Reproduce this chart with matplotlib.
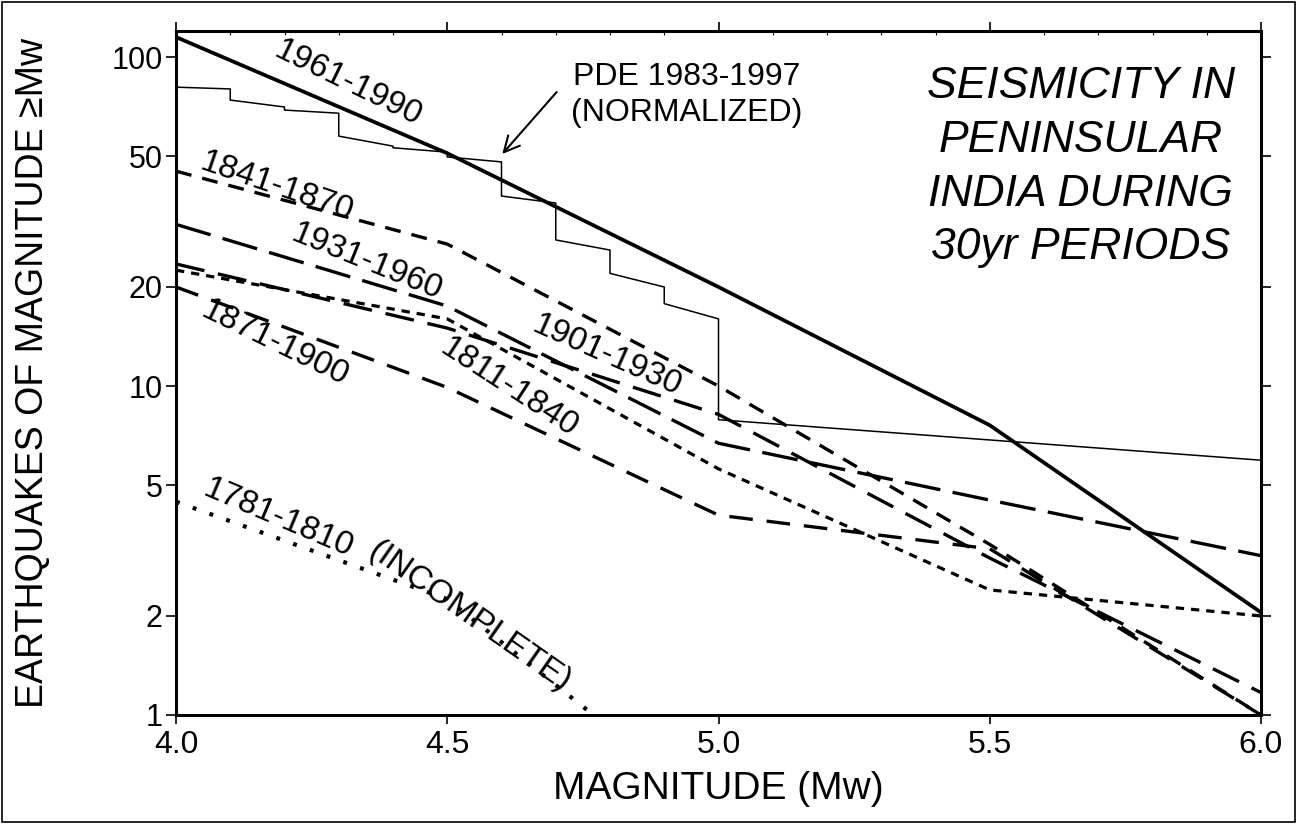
import matplotlib.pyplot as plt
from matplotlib.patches import Rectangle
from matplotlib.ticker import MultipleLocator, NullLocator

plt.rcParams['font.family'] = ['Liberation Sans', 'DejaVu Sans']
plt.rcParams['lines.scale_dashes'] = False

# magnitude steps of the 30 yr curves
mag = [4.0, 4.5, 5.0, 5.5, 6.0]
n_1961_1990 = [115, 51, 20, 7.6, 2.05]
n_1841_1870 = [45, 27, 10, 3.3, 1.0]
n_1931_1960 = [31, 17.5, 6.7, 4.5, 3.05]
n_1901_1930 = [23.5, 15.0, 8.2, 3.0, 1.17]
n_1871_1900 = [20, 9.9, 4.05, 3.2, 1.0]
n_1811_1840 = [22.5, 16, 5.6, 2.4, 2.0]
n_1781_1810 = [4.45, 2.25, 0.5]   # only 4.0-5.0, runs off the bottom

# PDE catalogue, normalized (stair curve)
pde_mag = [4.0, 4.1, 4.1, 4.2, 4.2, 4.3, 4.3, 4.4, 4.4, 4.5, 4.5,
           4.6, 4.6, 4.7, 4.7, 4.8, 4.8, 4.9, 4.9, 5.0, 5.0, 6.0]
pde_n = [81, 80, 74, 70.5, 69, 67.5, 57.5, 53.6, 53, 51.4, 49.7,
         48, 37.8, 36, 27.8, 25.9, 22, 20, 17.8, 16, 7.9, 5.95]

y_ticks = [1, 2, 5, 10, 20, 50, 100]
x_labels = ['4.0', '4.5', '5.0', '5.5', '6.0']
title_lines = ['SEISMICITY IN', 'PENINSULAR', 'INDIA DURING', '30yr PERIODS']

W, H = 1297, 824
fig = plt.figure(figsize=(W / 100, H / 100), dpi=100)
ax = fig.add_axes([176 / W, 1 - 715 / H, 1085 / W, 684 / H])
ax.set_yscale('log')

ax.plot(mag, n_1961_1990, color='black', lw=2.7, solid_capstyle='butt')
ax.plot(pde_mag, pde_n, color='black', lw=1.1)
ax.plot(mag, n_1841_1870, color='black', lw=2.4, dashes=(11.5, 8))
ax.plot(mag, n_1931_1960, color='black', lw=2.4, dashes=(26, 9))
ax.plot(mag, n_1901_1930, color='black', lw=2.4, dashes=(21, 10))
ax.plot(mag, n_1871_1900, color='black', lw=2.4, dashes=(17, 10))
ax.plot(mag, n_1811_1840, color='black', lw=2.3, dashes=(6, 5))
ax.plot(mag[:3], n_1781_1810, color='black', lw=3.0, dashes=(2.8, 10))

ax.set_xlim(4.0, 6.0)
ax.set_ylim(1, 120)
ax.set_xticks(mag)
ax.set_xticklabels(x_labels)
ax.set_yticks(y_ticks)
ax.set_yticklabels([str(v) for v in y_ticks])
ax.yaxis.set_minor_locator(NullLocator())
ax.xaxis.set_minor_locator(MultipleLocator(0.1))

ax.tick_params(which='major', direction='out', top=True, right=True,
               labeltop=False, labelright=False, width=1.2)
ax.tick_params(axis='x', which='major', length=6.5, pad=4, labelsize=23)
ax.tick_params(axis='y', which='major', length=7.5, pad=2, labelsize=22)
ax.tick_params(axis='x', which='minor', direction='in', length=3,
               width=0.8, bottom=False, top=True)
for s in ax.spines.values():
    s.set_linewidth(2.2)

fig.text(33 / W, 1 - 373 / H, 'EARTHQUAKES OF MAGNITUDE \u2265Mw',
         rotation=90, ha='center', va='center', fontsize=27)
fig.text((176 + 1260) / 2 / W, 1 - 789 / H, 'MAGNITUDE (Mw)',
         ha='center', va='center', fontsize=28)

# curve labels
lab = dict(fontsize=24, ha='center', va='center', rotation_mode='anchor')
ax.text(4.317, 83.4, '1961-1990', rotation=-26, **lab)
ax.text(4.186, 40.3, '1841-1870', rotation=-19, **lab)
ax.text(4.352, 23.8, '1931-1960', rotation=-22, **lab)
ax.text(4.183, 13.5, '1871-1900', rotation=-26, **lab)
ax.text(4.613, 9.9, '1811-1840', rotation=-33, **lab)
ax.text(4.795, 12.4, '1901-1930', rotation=-24, **lab)
ax.text(4.188, 3.97, '1781-1810', rotation=-23, **lab)
ax.text(4.542, 1.99, '(INCOMPLETE)', rotation=-35, **lab)

# PDE note with arrow
ax.text(4.941, 87, 'PDE 1983-1997', fontsize=23, ha='center', va='center')
ax.text(4.941, 67.6, '(NORMALIZED)', fontsize=23, ha='center', va='center')
ax.annotate('', xy=(4.598, 50), xytext=(4.705, 79.4),
            arrowprops=dict(arrowstyle='->', lw=1.5, color='black',
                            mutation_scale=28))

# box title
for txt, yv in zip(title_lines, [81.6, 55.6, 38.3, 26.3]):
    ax.text(5.668, yv, txt, fontsize=32, style='italic',
            ha='center', va='center')

fig.patches.append(Rectangle((2 / W, 2 / H), 1 - 4 / W, 1 - 4 / H,
                             transform=fig.transFigure, fill=False,
                             lw=1.2, ec='black'))

fig.savefig('out.png', dpi=100)
